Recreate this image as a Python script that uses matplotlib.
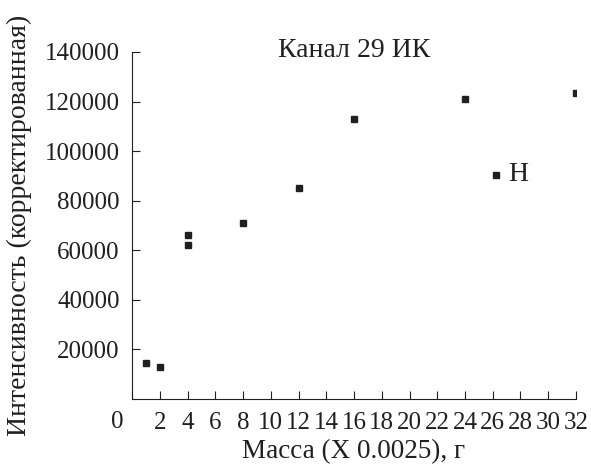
import matplotlib
matplotlib.use("Agg")
from matplotlib import pyplot as plt

# данные
massa = [1, 2, 4, 4, 8, 12, 16, 24, 32]
intens = [14500, 13000, 66000, 62000, 71000, 85000, 113000, 121000, 123500]
massa_h = [26.2]
intens_h = [90500]

x_ticks = list(range(0, 33, 2))
y_ticks = [20000, 40000, 60000, 80000, 100000, 120000, 140000]

ink = "#231f20"
plt.rcParams["font.family"] = ["Liberation Serif", "DejaVu Serif"]
plt.rcParams["font.size"] = 18

fig = plt.figure(figsize=(5.91, 4.65), dpi=100)
ax = fig.add_axes([0.2234, 0.1419, 0.7512, 0.7463])

ax.plot(massa, intens, "s", color=ink, markersize=4.2, clip_on=True)
ax.plot(massa_h, intens_h, "s", color=ink, markersize=4.2)
ax.text(massa_h[0] + 0.9, intens_h[0], "Н", color=ink, va="center", ha="left",
        fontsize=20)
ax.text(16, 140500, "Канал 29 ИК", color=ink, ha="center", va="center",
        fontsize=20)

ax.set_xlim(0, 32)
ax.set_ylim(0, 140000)
ax.set_xticks(x_ticks)
ax.set_xticklabels([""] + [str(t) for t in x_ticks[1:]])
ax.set_yticks(y_ticks)
ax.set_yticklabels([str(t) for t in y_ticks])
ax.annotate("0", xy=(0, 0), xycoords=("data", "axes fraction"),
            xytext=(-15, -12), textcoords="offset pixels",
            ha="center", va="top", color=ink)

ax.tick_params(direction="in", length=6, width=0.8, pad=9, colors=ink,
               labelcolor=ink)
for s in ["top", "right"]:
    ax.spines[s].set_visible(False)
for s in ["left", "bottom"]:
    ax.spines[s].set_color(ink)
    ax.spines[s].set_linewidth(0.8)

ax.set_xlabel("Масса (X 0.0025), г", color=ink, labelpad=4, fontsize=19.5)
ax.set_ylabel("Интенсивность (корректированная)", color=ink, labelpad=9,
              fontsize=20)

fig.savefig("out.png", dpi=100)
